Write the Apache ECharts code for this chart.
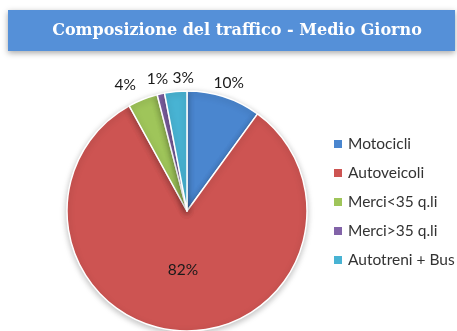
<!DOCTYPE html>
<html>
<head>
<meta charset="utf-8">
<script src="https://cdn.jsdelivr.net/npm/echarts@6/dist/echarts.min.js"></script>
<style>
  html, body { margin: 0; padding: 0; background: #fff; }
  #chart { width: 457px; height: 331px; }
</style>
</head>
<body>
<div id="chart"></div>
<script>
// Traffic composition at midday, share of vehicles per class (%)
const titleText = 'Composizione del traffico - Medio Giorno';
const categories = ['Motocicli', 'Autoveicoli', 'Merci<35 q.li', 'Merci>35 q.li', 'Autotreni + Bus'];
const shares = [10, 82, 4, 1, 3];
const colors = ['#4a86cf', '#cd5452', '#9fc55a', '#8263a8', '#48b3d3'];

// Classes whose label sits inside the slice (the large one); the rest sit just outside
const insideLabel = ['Autoveicoli'];
// small nudges so labels do not collide
const labelNudge = { 'Autoveicoli': [0, -4], 'Merci<35 q.li': [-12, 0], 'Autotreni + Bus': [9, 1] };

const labelFont = { fontFamily: 'Lato, "Open Sans", sans-serif', fontSize: 15.5, color: '#1a1a1a' };

const chart = echarts.init(document.getElementById('chart'), null, { renderer: 'canvas' });

const center = [187, 211];

chart.setOption({
  animation: false,
  color: colors,
  graphic: [{
    type: 'rect',
    shape: { x: 8, y: 10, width: 447, height: 41 },
    style: {
      fill: '#5590d8',
      shadowBlur: 6,
      shadowColor: 'rgba(0,0,0,0.35)',
      shadowOffsetY: 2
    },
    z: 0
  }],
  title: {
    text: titleText,
    left: 232,
    top: 18,
    textAlign: 'center',
    textStyle: {
      fontFamily: '"DejaVu Serif", serif',
      fontWeight: 'bold',
      fontSize: 16,
      color: '#ffffff'
    },
    z: 10
  },
  legend: {
    orient: 'vertical',
    left: 332,
    top: 136,
    padding: 0,
    itemWidth: 10,
    itemHeight: 10,
    itemGap: 13,
    icon: 'rect',
    data: categories,
    textStyle: {
      fontFamily: 'Lato, "Open Sans", sans-serif',
      fontSize: 15.5,
      lineHeight: 16,
      color: '#333333'
    }
  },
  series: [
    {
      // the pie itself
      type: 'pie',
      center: center,
      radius: 120,
      startAngle: 90,
      clockwise: true,
      avoidLabelOverlap: false,
      itemStyle: {
        borderColor: '#ffffff',
        borderWidth: 1.5,
        shadowBlur: 6,
        shadowColor: 'rgba(0,0,0,0.25)',
        shadowOffsetY: 2
      },
      label: { show: false },
      labelLine: { show: false },
      data: categories.map((name, i) => ({
        name: name,
        value: shares[i],
        label: insideLabel.includes(name)
          ? Object.assign({
              show: true,
              position: 'inside',
              formatter: '{d}%',
              offset: labelNudge[name] || [0, 0]
            }, labelFont)
          : { show: false }
      }))
    },
    {
      // invisible ring just outside the pie, carrying the labels of the small slices
      type: 'pie',
      center: center,
      radius: [120, 144],
      startAngle: 90,
      clockwise: true,
      silent: true,
      avoidLabelOverlap: false,
      legendHoverLink: false,
      labelLayout: { hideOverlap: false },
      itemStyle: { color: 'rgba(0,0,0,0)', borderWidth: 0 },
      labelLine: { show: false },
      data: categories.map((name, i) => ({
        name: name,
        value: shares[i],
        label: insideLabel.includes(name)
          ? { show: false }
          : Object.assign({
              show: true,
              position: 'inside',
              formatter: '{d}%',
              offset: labelNudge[name] || [0, 0]
            }, labelFont)
      }))
    }
  ]
});
</script>
</body>
</html>
